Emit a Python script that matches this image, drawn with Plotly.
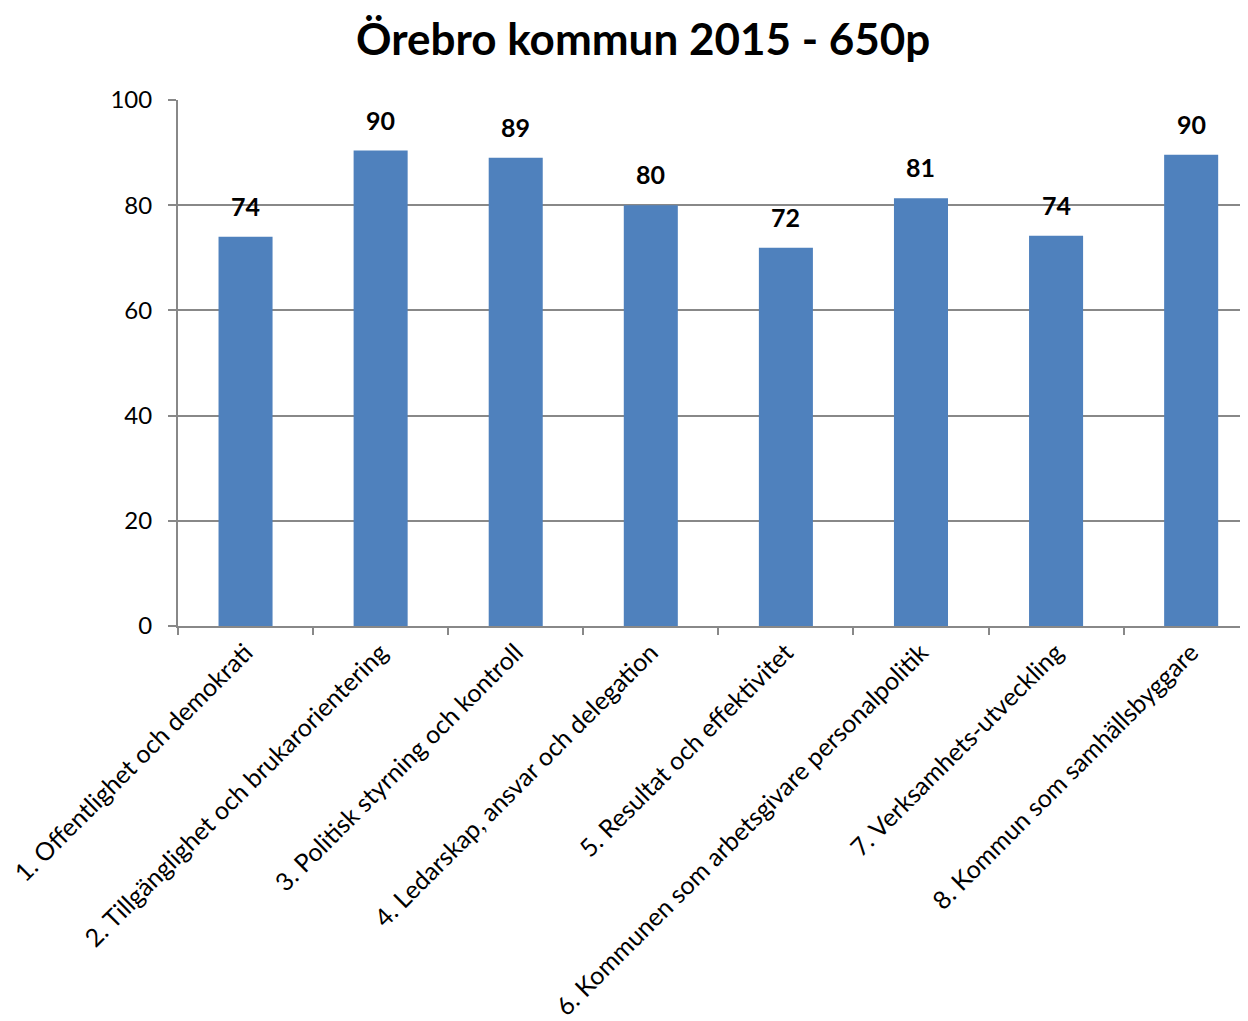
import plotly.graph_objects as go

categories = [
    "1. Offentlighet och demokrati",
    "2. Tillgänglighet och brukarorientering",
    "3. Politisk styrning och kontroll",
    "4. Ledarskap, ansvar och delegation",
    "5. Resultat och effektivitet",
    "6. Kommunen som arbetsgivare personalpolitik",
    "7. Verksamhets-utveckling",
    "8. Kommun som samhällsbyggare",
]
scores = [74.0, 90.4, 89.0, 80.0, 71.9, 81.3, 74.2, 89.6]
y_ticks = [0, 20, 40, 60, 80, 100]

FONT = "Lato, 'Open Sans', sans-serif"
BAR_COLOR = "#4F81BD"
GRID = "#888888"

fig = go.Figure()
fig.add_trace(
    go.Bar(
        x=categories,
        y=scores,
        marker=dict(color=BAR_COLOR, line=dict(width=0)),
        width=0.4,
    )
)

# value labels above the bars
for cat, val in zip(categories, scores):
    fig.add_annotation(
        x=cat, y=val, text=f"<b>{round(val)}</b>",
        showarrow=False, yanchor="bottom", yshift=14,
        font=dict(family=FONT, size=25, color="black"),
    )

fig.update_layout(
    title=dict(
        text="<b>Örebro kommun 2015 - 650p</b>",
        x=0.509, xanchor="center", y=0.969, yanchor="middle",
        font=dict(family=FONT, size=44, color="black"),
    ),
    width=1248,
    height=1021,
    margin=dict(l=168, r=0, t=92, b=403),
    paper_bgcolor="white",
    plot_bgcolor="white",
    showlegend=False,
    font=dict(family=FONT, color="black"),
)
fig.update_xaxes(
    range=[-0.5, 7.48],
    tickangle=-45,
    tickfont=dict(family=FONT, size=25, color="black"),
    showline=True, linecolor=GRID, linewidth=2,
    ticks="outside", ticklen=7, tickcolor=GRID, tickwidth=2,
    tickson="boundaries",
    showgrid=False,
)
fig.update_yaxes(
    range=[0, 100],
    tickvals=y_ticks,
    tickfont=dict(family=FONT, size=24, color="black"),
    ticklabelstandoff=11,
    showline=True, linecolor=GRID, linewidth=2,
    ticks="outside", ticklen=8, tickcolor=GRID, tickwidth=2,
    showgrid=True, gridcolor=GRID, gridwidth=2,
    zeroline=False,
)

fig.write_html("out.html")
